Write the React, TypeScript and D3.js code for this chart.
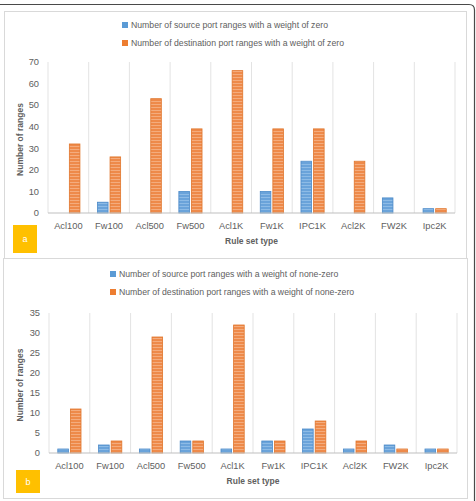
import React from 'react'
import * as d3 from 'd3'

const categories = ['Acl100', 'Fw100', 'Acl500', 'Fw500', 'Acl1K', 'Fw1K', 'IPC1K', 'Acl2K', 'FW2K', 'Ipc2K']

// panel a: weight of zero
const zeroSource = [0, 5, 0, 10, 0, 10, 24, 0, 7, 2]
const zeroDest = [32, 26, 53, 39, 66, 39, 39, 24, 0, 2]
const zeroTicks = [0, 10, 20, 30, 40, 50, 60, 70]

// panel b: weight of none-zero
const nonZeroSource = [1, 2, 1, 3, 1, 3, 6, 1, 2, 1]
const nonZeroDest = [11, 3, 29, 3, 32, 3, 8, 3, 1, 1]
const nonZeroTicks = [0, 5, 10, 15, 20, 25, 30, 35]

const FONT = "'Liberation Sans', Arial, sans-serif"
const TXT = '#606060'

interface PanelProps {
  source: number[]
  dest: number[]
  ticks: number[]
  legend: [string, string]
  letter: string
  legendX: number
  legendY: number
  left: number
  right: number
  top: number
  bottom: number
  box: { x: number; y: number; w: number; h: number }
}

const Panel: React.FC<PanelProps> = ({ source, dest, ticks, legend, letter, legendX, legendY, left, right, top, bottom, box }) => {
  const x = d3.scaleBand().domain(categories).range([left, right])
  const y = d3.scaleLinear().domain([0, d3.max(ticks) ?? 1]).range([bottom, top])
  const bw = x.bandwidth() * 0.26
  const gap = 2

  return (
    <g fontFamily={FONT}>
      {/* legend */}
      {legend.map((t, i) => (
        <g key={t} transform={`translate(${legendX},${legendY + i * 18})`}>
          <rect x={-3} y={-3} width={6} height={6} fill={i === 0 ? '#5b9bd5' : '#ed7d31'} />
          <text x={6} dy="0.35em" fontSize={8.7} fill={TXT}>{t}</text>
        </g>
      ))}

      {/* vertical gridlines at band edges */}
      {[...categories.map(c => x(c) ?? 0), right].map((gx, i) => (
        <line key={i} x1={gx} x2={gx} y1={top} y2={bottom} stroke="#e3e3e3" strokeWidth={1} />
      ))}

      {/* y ticks */}
      {ticks.map(t => (
        <text key={t} x={left - 9} y={y(t)} dy="0.35em" textAnchor="end" fontSize={9.3} fill={TXT}>{t}</text>
      ))}

      {/* bars */}
      {categories.map((c, i) => {
        const cx = (x(c) ?? 0) + x.bandwidth() / 2
        return (
          <g key={c}>
            {source[i] > 0 && (
              <rect x={cx - gap / 2 - bw} y={y(source[i])} width={bw} height={bottom - y(source[i])}
                fill={`url(#stripeBlue)`} stroke="#4a89c8" strokeWidth={0.8} />
            )}
            {dest[i] > 0 && (
              <rect x={cx + gap / 2} y={y(dest[i])} width={bw} height={bottom - y(dest[i])}
                fill={`url(#stripeOrange)`} stroke="#e0762c" strokeWidth={0.8} />
            )}
            <text x={cx} y={bottom + 13} dy="0.35em" textAnchor="middle" fontSize={9.3} fill={TXT}>{c}</text>
          </g>
        )
      })}

      {/* x baseline */}
      <line x1={left} x2={right} y1={bottom} y2={bottom} stroke="#bfbfbf" strokeWidth={1} />

      {/* axis titles */}
      <text x={(left + right) / 2} y={bottom + 28} dy="0.35em" textAnchor="middle" fontSize={8.5} fontWeight="bold" fill={TXT}>Rule set type</text>
      <text transform={`translate(20,${(top + bottom) / 2 + 2}) rotate(-90)`} dy="0.35em" textAnchor="middle" fontSize={8.5} fontWeight="bold" fill={TXT}>Number of ranges</text>

      {/* panel letter */}
      <rect x={box.x} y={box.y} width={box.w} height={box.h} fill="#ffc000" />
      <text x={box.x + box.w / 2} y={box.y + box.h / 2} dy="0.35em" textAnchor="middle" fontSize={9} fill="#ffffff">{letter}</text>
    </g>
  )
}

const App: React.FC = () => {
  return (
    <svg width={476} height={501} style={{ position: 'absolute', left: 0, top: 0, background: '#fff' }}>
      <defs>
        <pattern id="stripeBlue" width={4} height={3} patternUnits="userSpaceOnUse">
          <rect width={4} height={3} fill="#6aa3da" />
          <rect y={2} width={4} height={1} fill="#8dbbe6" />
        </pattern>
        <pattern id="stripeOrange" width={4} height={3} patternUnits="userSpaceOnUse">
          <rect width={4} height={3} fill="#ee8a4a" />
          <rect y={2} width={4} height={1} fill="#f4ac7d" />
        </pattern>
      </defs>
      <rect width={476} height={501} fill="#fff" />

      {/* outer frame */}
      <path d="M0,4.5 H469 Q474.5,4.5 474.5,10 V501" fill="none" stroke="#4a4a4a" strokeWidth={1.2} />
      {/* panel frames */}
      <rect x={4.5} y={11.5} width={462} height={247} fill="none" stroke="#d9d9d9" />
      <rect x={3.5} y={258.5} width={464} height={240} fill="none" stroke="#d9d9d9" />

      <Panel
        source={zeroSource}
        dest={zeroDest}
        ticks={zeroTicks}
        legend={['Number of source port ranges with a weight of zero', 'Number of destination port ranges with a weight of zero']}
        letter="a"
        legendX={125}
        legendY={25}
        left={48}
        right={455}
        top={62}
        bottom={213}
        box={{ x: 13, y: 225, w: 24, h: 28 }}
      />
      <Panel
        source={nonZeroSource}
        dest={nonZeroDest}
        ticks={nonZeroTicks}
        legend={['Number of source port ranges with a weight of none-zero', 'Number of destination port ranges with a weight of none-zero']}
        letter="b"
        legendX={113}
        legendY={274}
        left={49}
        right={457}
        top={313}
        bottom={453}
        box={{ x: 16, y: 470, w: 24, h: 23 }}
      />
    </svg>
  )
}

export default App
